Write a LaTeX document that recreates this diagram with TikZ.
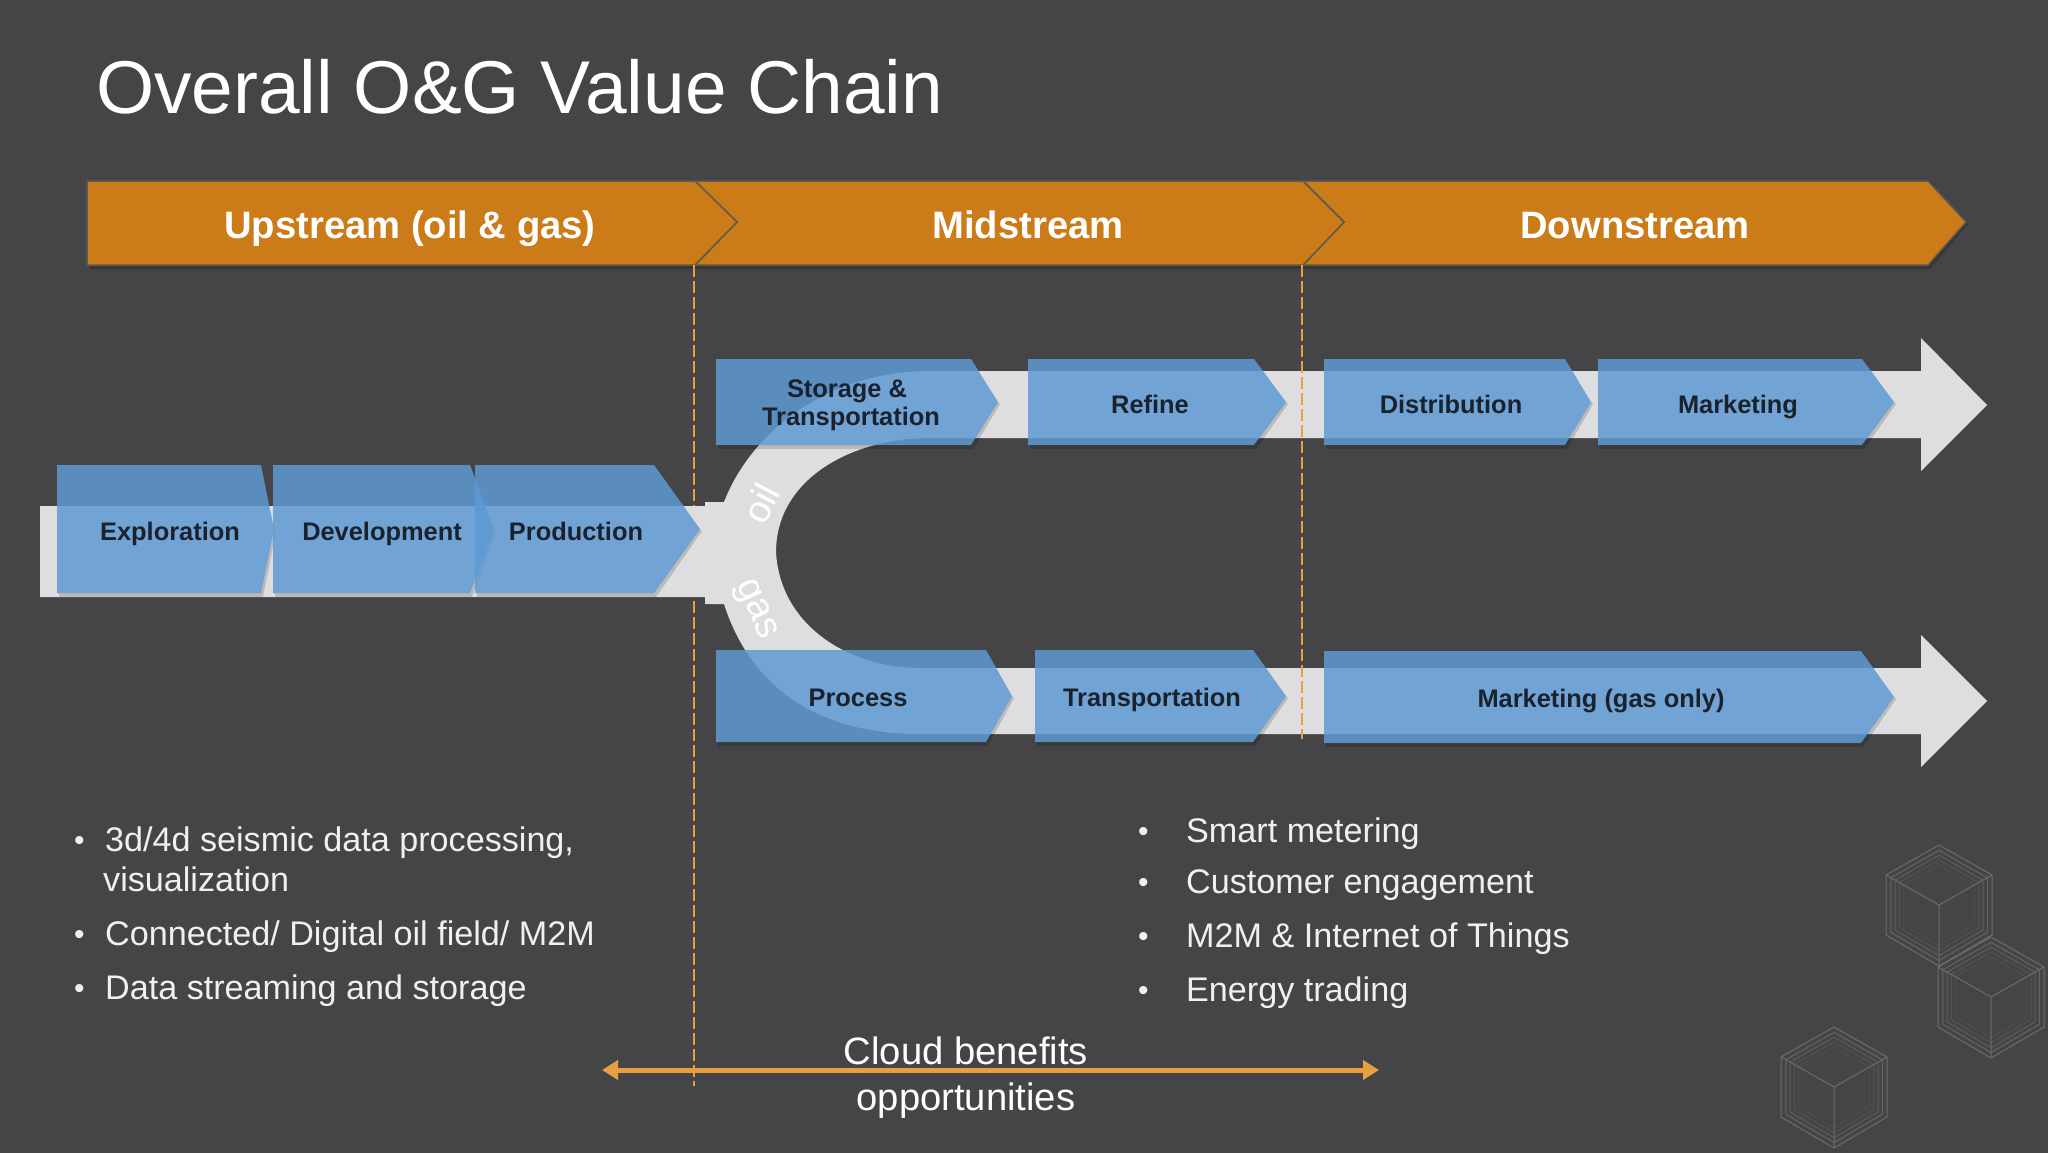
\documentclass[tikz,border=0pt]{standalone}
\usepackage{fontspec}
\setmainfont{Liberation Sans}
\usetikzlibrary{arrows.meta}
\newcommand{\fsz}[1]{\fontsize{#1}{#1}\selectfont}
\definecolor{slide}{RGB}{69,68,70}
\definecolor{pipe}{RGB}{222,222,224}
\definecolor{stageblue}{RGB}{94,153,211}
\definecolor{ambar}{RGB}{203,123,24}
\definecolor{ambline}{RGB}{95,90,76}
\definecolor{dashor}{RGB}{232,160,62}
\definecolor{labeldark}{RGB}{26,34,46}
\definecolor{cubeline}{RGB}{108,108,110}
\tikzstyle{stage} = [fill=stageblue, fill opacity=.85]
\tikzstyle{stageedge} = [fill=black, fill opacity=.16]
\tikzstyle{stagetxt} = [text=labeldark, font=\fsz{25.4}\bfseries, anchor=base, inner sep=0pt]
\tikzstyle{phase} = [fill=ambar, draw=ambline, line width=1.5pt]
\tikzstyle{phasetxt} = [text=white, font=\fsz{38.2}\bfseries, anchor=base, inner sep=0pt]
\tikzstyle{bullet} = [text=white!94!black, font=\fsz{34.15}, anchor=base west, inner sep=0pt]
\tikzstyle{dotmark} = [text=white!94!black, font=\fsz{30}, anchor=base west, inner sep=0pt]
\tikzstyle{cloudtxt} = [text=white, font=\fsz{38.2}, anchor=base, inner sep=0pt]
\tikzstyle{forktxt} = [text=white, font=\fsz{38}, inner sep=0pt]
\tikzstyle{divider} = [dashor, line width=2.5pt, dash pattern=on 12pt off 4pt]
\tikzset{
    cubeshape/.pic={
        \foreach \s/\o in {1/1,.91/.8,.83/.6,.75/.35,.67/.2}
            \draw[cubeline, line width=1pt, draw opacity=\o]
            (0,-60*\s) -- (53*\s,-30*\s) -- (53*\s,30*\s) -- (0,61*\s)
            -- (-53*\s,30*\s) -- (-53*\s,-30*\s) -- cycle;
        \draw[cubeline, line width=1pt] (0,0) -- (0,61) (0,0) -- (53,-30) (0,0) -- (-53,-30);
    }
}

\begin{document}
\begin{tikzpicture}[x=1pt,y=-1pt]
    \useasboundingbox (0,0) rectangle (2048,1152);
    \fill[slide] (-3,-3) rectangle (2051,1156);

    \node (title) [text=white, font=\fsz{74.8}, anchor=base west, inner sep=0pt] at (96,113) {Overall O\&G Value Chain};

    % background cubes
    \pic at (1939,905) {cubeshape};
    \pic at (1991,997) {cubeshape};
    \pic at (1834,1087) {cubeshape};

    % phases
    \fill[black, opacity=.2] (90,265) -- (1928,265) -- (1966,222) -- (1968,224) -- (1930,269) -- (90,269) -- cycle;
    \draw[phase] (1303,181) -- (1928,181) -- (1966,222) -- (1928,265) -- (1303,265) -- (1344,222) -- cycle;
    \draw[phase] (695,181) -- (1303,181) -- (1344,222) -- (1303,265) -- (695,265) -- (737,222) -- cycle;
    \draw[phase] (87,181) -- (695,181) -- (737,222) -- (695,265) -- (87,265) -- cycle;
    \node (upstream) [phasetxt] at (410,238) {Upstream (oil \& gas)};
    \node (midstream) [phasetxt] at (1028,238) {Midstream};
    \node (downstream) [phasetxt] at (1635,238) {Downstream};

    \coordinate (divA) at (694,265);
    \coordinate (divAend) at (694,1086);
    \coordinate (divB) at (1302,265);
    \coordinate (divBend) at (1302,739);
    \draw[divider] (divA) -- (divAend);

    % pipes
    \fill[pipe] (40,506) -- (705,506) -- (705,502) -- (724,502)
        .. controls (752,430) and (830,371) .. (930,371) -- (930,438)
        .. controls (850,438) and (776,480) .. (776,552)
        .. controls (780,625) and (848,668) .. (920,668) -- (920,734)
        .. controls (815,734) and (750,685) .. (724,604)
        -- (705,604) -- (705,597) -- (40,597) -- cycle;
    \fill[pipe] (930,371) -- (1921,371) -- (1921,338) -- (1987,405) -- (1921,471) -- (1921,438) -- (930,438) -- cycle;
    \fill[pipe] (920,668) -- (1921,668) -- (1921,635) -- (1987,701) -- (1921,767) -- (1921,734) -- (920,734) -- cycle;

    \node (oil) [forktxt, rotate=62] at (761,503) {oil};
    \node (gas) [forktxt, rotate=-66] at (755,610) {gas};

    % blue stages
    \foreach \name/\xa/\xb/\xc/\ya/\yb/\tx/\ty/\txt in {
        expl/57/261/274/465/593/170/540/Exploration,
        devel/273/470/494/465/593/382/540/Development,
        prod/475/654/700/465/593/576/540/Production,
        stor/716/971/998/359/445/847/397/{Storage \&},
        refine/1028/1254/1286/359/445/1150/413/Refine,
        distr/1324/1565/1591/359/445/1451/413/Distribution,
        mark/1598/1862/1894/359/445/1738/413/Marketing,
        proc/716/986/1012/650/742/858/706/Process,
        trans/1035/1253/1286/650/742/1152/706/Transportation,
        markgas/1324/1861/1894/651/743/1601/707/Marketing (gas only)}
    {
        \pgfmathsetmacro{\ym}{(\ya+\yb)/2}
        \fill[stage] (\xa,\ya) -- (\xb,\ya) -- (\xc,\ym) -- (\xb,\yb) -- (\xa,\yb) -- cycle;
        \fill[stageedge] (\xa+2,\yb) -- (\xb,\yb) -- (\xc,\ym) -- (\xc+2,\ym+2) -- (\xb+2,\yb+4) -- (\xa+2,\yb+4) -- cycle;
        \node (\name) [stagetxt] at (\tx,\ty) {\txt};
    }
    \node (storB) [stagetxt] at (851,425) {Transportation};

    \draw[divider] (divB) -- (divBend);

    % lists
    \foreach \name/\x/\y/\txt in {
        up1/105/851/{3d/4d seismic data processing,},
        up2/103/891/visualization,
        up3/105/945/{Connected/ Digital oil field/ M2M},
        up4/105/999/Data streaming and storage}
        \node (\name) [bullet] at (\x,\y) {\txt};
    \foreach \name/\y in {dotA/850,dotB/944,dotC/998}
        \node (\name) [dotmark] at (74,\y) {•};
    \foreach \name/\y/\txt in {
        dn1/842/Smart metering,
        dn2/893/Customer engagement,
        dn3/947/M2M \& Internet of Things,
        dn4/1001/Energy trading}
    {
        \node (\name) [bullet] at (1186,\y) {\txt};
        \node (\name b) [dotmark] at (1138,\y-1) {•};
    }

    % cloud arrow
    \coordinate (cloudL) at (602,1070);
    \coordinate (cloudR) at (1379,1070);
    \draw[dashor, line width=5pt, {Triangle[length=16pt,width=19pt]}-{Triangle[length=16pt,width=19pt]}] (cloudL) -- (cloudR);
    \node (cloudA) [cloudtxt] at (966,1064) {Cloud benefits};
    \node (cloudB) [cloudtxt] at (966,1110) {opportunities};
\end{tikzpicture}
\end{document}
